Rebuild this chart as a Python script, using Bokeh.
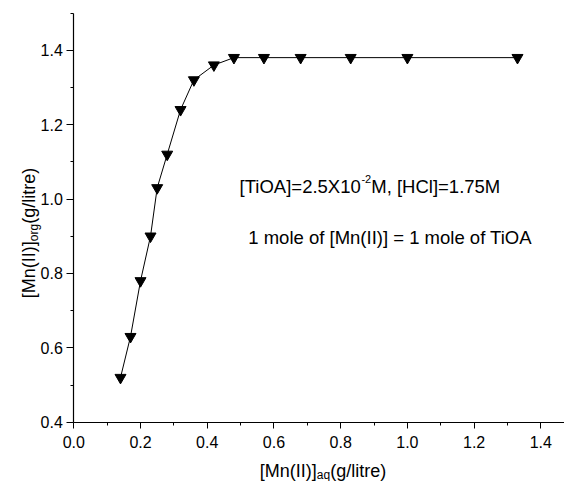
from bokeh.plotting import figure
from bokeh.models import Label, FixedTicker, ColumnDataSource
from bokeh.embed import file_html
from bokeh.resources import INLINE
import math

# ---- data ----
mn_aq = [0.14, 0.17, 0.20, 0.23, 0.25, 0.28, 0.32, 0.36, 0.42, 0.48, 0.57, 0.68, 0.83, 1.00, 1.33]
mn_org = [0.52, 0.63, 0.78, 0.90, 1.03, 1.12, 1.24, 1.32, 1.36, 1.38, 1.38, 1.38, 1.38, 1.38, 1.38]
x_ticks = [0.0, 0.2, 0.4, 0.6, 0.8, 1.0, 1.2, 1.4]
y_ticks = [0.4, 0.6, 0.8, 1.0, 1.2, 1.4]
x_tick_labels = ["0.0", "0.2", "0.4", "0.6", "0.8", "1.0", "1.2", "1.4"]
y_tick_labels = ["0.4", "0.6", "0.8", "1.0", "1.2", "1.4"]

# axis extents (data) and the visible window around them (room for titles)
X_AXIS = (0.0, 1.48)
Y_AXIS = (0.4, 1.5)
WIDTH, HEIGHT = 564, 481
PX_X, PX_Y = 333.6, 372.0          # pixels per data unit
ORIGIN_X, ORIGIN_Y = 73.3, 421.7   # page position of (0, 0.4)
FONT = "Liberation Sans"

x_rng = (X_AXIS[0] - ORIGIN_X / PX_X, X_AXIS[0] + (WIDTH - ORIGIN_X) / PX_X)
y_rng = (Y_AXIS[0] - (HEIGHT - ORIGIN_Y) / PX_Y, Y_AXIS[0] + ORIGIN_Y / PX_Y)

p = figure(width=WIDTH, height=HEIGHT, x_range=x_rng, y_range=y_rng,
           output_backend="svg", toolbar_location=None,
           min_border_left=0, min_border_right=0, min_border_top=0, min_border_bottom=0)
p.grid.visible = False
p.outline_line_color = None
p.background_fill_color = "white"
p.border_fill_color = "white"

x_minor = [round(t + 0.1, 2) for t in x_ticks if t + 0.1 < X_AXIS[1]]
y_minor = [round(t + 0.1, 2) for t in y_ticks if t + 0.1 <= Y_AXIS[1] + 1e-9]
p.xaxis.ticker = FixedTicker(ticks=x_ticks, minor_ticks=x_minor)
p.yaxis.ticker = FixedTicker(ticks=y_ticks, minor_ticks=y_minor)
p.xaxis.major_label_overrides = {t: l for t, l in zip(x_ticks, x_tick_labels)}
p.yaxis.major_label_overrides = {t: l for t, l in zip(y_ticks, y_tick_labels)}
p.xaxis.fixed_location = Y_AXIS[0]
p.yaxis.fixed_location = X_AXIS[0]
p.xaxis.bounds = X_AXIS
p.yaxis.bounds = Y_AXIS

for ax in (p.xaxis, p.yaxis):
    ax.axis_line_color = "black"
    ax.axis_line_width = 1.2
    ax.major_tick_line_color = "black"
    ax.minor_tick_line_color = "black"
    ax.major_tick_in = 0
    ax.major_tick_out = 6
    ax.minor_tick_in = 0
    ax.minor_tick_out = 3
    ax.major_label_text_font = FONT
    ax.major_label_text_font_size = "16px"
    ax.major_label_text_color = "black"
    ax.axis_label = None
p.yaxis.major_tick_out = 7
p.xaxis.major_label_standoff = 8
p.yaxis.major_label_standoff = 4

src = ColumnDataSource(dict(x=mn_aq, y=mn_org))
p.line("x", "y", source=src, line_color="black", line_width=1)
p.scatter("x", "y", source=src, marker="inverted_triangle", size=11,
          fill_color="black", line_color="black")

# ---- rich text helper (approximate Arial / Liberation Sans advance widths) ----
W = {' ': 278, '[': 278, ']': 278, '(': 333, ')': 333, 'M': 833, 'n': 556, 'I': 278,
     'g': 556, '/': 278, 'l': 222, 'i': 222, 't': 278, 'r': 333, 'e': 556, 'o': 556,
     'a': 556, 'q': 556, 'T': 611, 'O': 778, 'A': 667, '=': 584, '.': 278, 'X': 667,
     '-': 333, ',': 278, 'H': 722, 'C': 722, 'm': 833, 'f': 278}


def tw(s, size):
    return sum(W.get(c, 556) for c in s) * size / 1000.0


def rich(x, y, parts, dx=0.0, dy=0.0, angle=0.0):
    off = 0.0
    for text, size, shift in parts:
        if angle == 0:
            xo, yo = dx + off, dy + shift
        else:
            xo, yo = dx - shift, dy + off
        p.add_layout(Label(x=x, y=y, x_offset=xo, y_offset=yo, text=text, angle=angle,
                           text_font=FONT, text_font_size=f"{size}px", text_color="black",
                           text_baseline="alphabetic", text_align="left"))
        off += tw(text, size)


# annotations inside the plot
rich(0.497, 1.034, [("[TiOA]=2.5X10", 18.5, 0), ("-2", 11, 7), ("M, [HCl]=1.75M", 18.5, 0)])
rich(0.523, 0.896, [("1 mole of [Mn(II)] = 1 mole of TiOA", 18.5, 0)])

# axis titles with sub-scripts, anchored to the axes' corner (0, 0.4)
rich(X_AXIS[0], Y_AXIS[0], [("[Mn(II)]", 18, 0), ("aq", 12, -4), ("(g/litre)", 18, 0)],
     dx=186, dy=-49)
rich(X_AXIS[0], Y_AXIS[0], [("[Mn(II)]", 18, 0), ("org", 12, -5), ("(g/litre)", 18, 0)],
     dx=-45, dy=124, angle=math.pi / 2)

open("out.html", "w").write(file_html(p, INLINE))
